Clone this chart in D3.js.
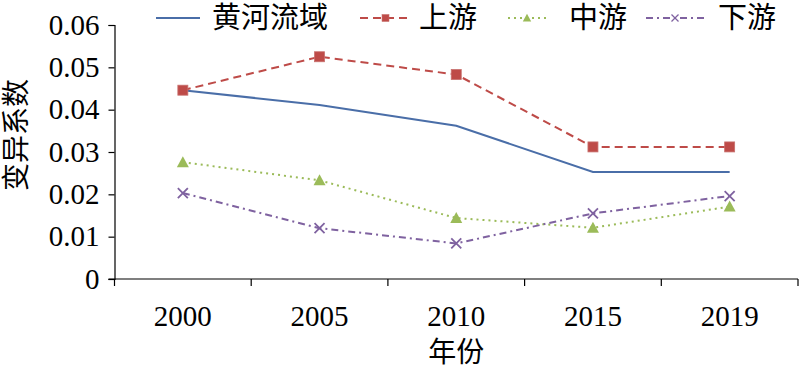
<!DOCTYPE html>
<html>
<head>
<meta charset="utf-8">
<script src="https://cdn.jsdelivr.net/npm/d3@7"></script>
<style>
  body { margin: 0; background: #fff; }
</style>
</head>
<body>
<div id="chart"></div>
<script>
const years = ["2000", "2005", "2010", "2015", "2019"];
const yellowRiver = [0.0446, 0.0411, 0.0362, 0.0253, 0.0253];
const upstream = [0.0446, 0.0525, 0.0483, 0.0312, 0.0312];
const midstream = [0.0276, 0.0233, 0.0144, 0.0121, 0.0171];
const downstream = [0.0203, 0.0120, 0.0084, 0.0155, 0.0196];
const yTicks = [0, 0.01, 0.02, 0.03, 0.04, 0.05, 0.06];

const series = [
    { name: "黄河流域", values: yellowRiver, color: "#4a6ea8", dash: null, marker: null },
    { name: "上游", values: upstream, color: "#be4b48", dash: "8,5", marker: "square" },
    { name: "中游", values: midstream, color: "#9bbb59", dash: "2,4", marker: "triangle" },
    { name: "下游", values: downstream, color: "#7f62a0", dash: "7,4,2,4", marker: "cross" }
];

const FONT = "'Liberation Serif', 'Noto Sans CJK SC', serif";
const width = 800, height = 367;
const margin = { top: 25, right: 2, bottom: 88, left: 114.5 };

const svg = d3.select("#chart").append("svg")
    .attr("width", width)
    .attr("height", height);

const x = d3.scaleBand()
    .domain(years)
    .range([margin.left, width - margin.right]);

const y = d3.scaleLinear()
    .domain([0, 0.06])
    .range([height - margin.bottom, margin.top]);

// y axis
const yAxis = svg.append("g")
    .attr("transform", `translate(${margin.left},0)`)
    .call(d3.axisLeft(y).tickValues(yTicks).tickSize(6).tickPadding(9)
        .tickFormat(d => d === 0 ? "0" : d.toFixed(2)));
yAxis.attr("font-family", FONT);
yAxis.select(".domain").attr("stroke", "#000").attr("stroke-width", 1.2);
yAxis.selectAll(".tick line").attr("stroke", "#000").attr("stroke-width", 1.2);
yAxis.selectAll("text")
    .attr("font-family", FONT)
    .attr("font-size", "29px")
    .attr("fill", "#000");

// x axis: ticks sit between categories
const xAxis = svg.append("g")
    .attr("transform", `translate(0,${y(0)})`);
xAxis.append("line")
    .attr("x1", margin.left - 6).attr("x2", width - margin.right)
    .attr("stroke", "#000").attr("stroke-width", 1.2);
const bounds = years.map(d => x(d)).concat([x(years[years.length - 1]) + x.bandwidth()]);
xAxis.selectAll("line.tk")
    .data(bounds)
    .join("line")
    .attr("class", "tk")
    .attr("x1", d => d).attr("x2", d => d)
    .attr("y1", 0).attr("y2", 7)
    .attr("stroke", "#000").attr("stroke-width", 1.2);
xAxis.selectAll("text")
    .data(years)
    .join("text")
    .attr("x", d => x(d) + x.bandwidth() / 2)
    .attr("y", 47)
    .attr("text-anchor", "middle")
    .attr("font-family", FONT)
    .attr("font-size", "29px")
    .text(d => d);

// axis titles
svg.append("text")
    .attr("x", (margin.left + width - margin.right) / 2)
    .attr("y", 362)
    .attr("text-anchor", "middle")
    .attr("font-family", FONT)
    .attr("font-size", "28px")
    .text("年份");

svg.append("text")
    .attr("transform", `translate(26,${135}) rotate(-90)`)
    .attr("text-anchor", "middle")
    .attr("font-family", FONT)
    .attr("font-size", "28px")
    .text("变异系数");

// lines
const line = d3.line()
    .x((d, i) => x(years[i]) + x.bandwidth() / 2)
    .y(d => y(d));

function drawMarker(g, type, color, cx, cy) {
    if (type === "square") {
        g.append("rect")
            .attr("x", cx - 5).attr("y", cy - 5)
            .attr("width", 10).attr("height", 10)
            .attr("fill", color).attr("stroke", "#c8706e").attr("stroke-width", 0.8);
    } else if (type === "triangle") {
        g.append("path")
            .attr("d", `M${cx},${cy - 6}L${cx + 6},${cy + 5}L${cx - 6},${cy + 5}Z`)
            .attr("fill", color);
    } else if (type === "cross") {
        g.append("path")
            .attr("d", `M${cx - 5},${cy - 5}L${cx + 5},${cy + 5}M${cx - 5},${cy + 5}L${cx + 5},${cy - 5}`)
            .attr("stroke", color).attr("stroke-width", 1.8).attr("fill", "none");
    }
}

series.forEach(s => {
    svg.append("path")
        .datum(s.values)
        .attr("d", line)
        .attr("fill", "none")
        .attr("stroke", s.color)
        .attr("stroke-width", 2)
        .attr("stroke-dasharray", s.dash);
    const mg = svg.append("g");
    s.values.forEach((v, i) => {
        drawMarker(mg, s.marker, s.color, x(years[i]) + x.bandwidth() / 2, y(v));
    });
});

// legend
const legendItems = [
    { lx: 156, tx: 212 },
    { lx: 360, tx: 419 },
    { lx: 508, tx: 569 },
    { lx: 646, tx: 718 }
];
const legendY = 18;
series.forEach((s, i) => {
    const it = legendItems[i];
    const lw = i === 0 ? 44 : (i === 1 ? 51 : (i === 2 ? 38 : 58));
    svg.append("line")
        .attr("x1", it.lx).attr("x2", it.lx + lw)
        .attr("y1", legendY).attr("y2", legendY)
        .attr("stroke", s.color)
        .attr("stroke-width", 2)
        .attr("stroke-dasharray", s.dash);
    if (s.marker) {
        const g = svg.append("g");
        drawMarker(g, s.marker, s.color, it.lx + lw / 2, legendY);
        g.attr("transform", `translate(${it.lx + lw / 2},${legendY}) scale(0.7) translate(${-(it.lx + lw / 2)},${-legendY})`);
    }
    svg.append("text")
        .attr("x", it.tx)
        .attr("y", legendY + 10)
        .attr("font-family", FONT)
        .attr("font-size", "29px")
        .text(s.name);
});
</script>
</body>
</html>
